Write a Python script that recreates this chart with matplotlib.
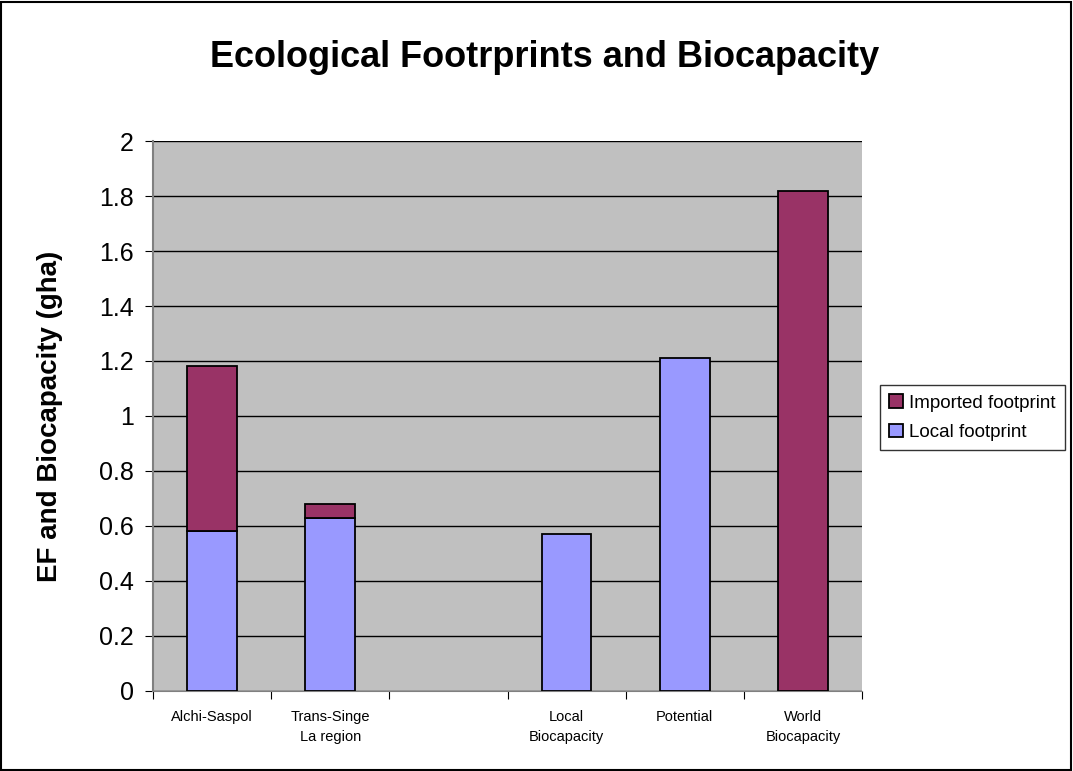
import matplotlib
matplotlib.use("Agg")
import matplotlib.pyplot as plt
import numpy as np
from matplotlib.patches import Rectangle

plt.rcParams['font.family'] = ['Liberation Sans', 'DejaVu Sans']

# data
categories = ["Alchi-Saspol", "Trans-Singe\nLa region", "", "Local\nBiocapacity", "Potential", "World\nBiocapacity"]
local_fp = [0.58, 0.63, 0, 0.57, 1.21, 0]
imported_fp = [0.60, 0.05, 0, 0, 0, 1.82]

fig = plt.figure(figsize=(10.73, 7.71), dpi=100)
ax = fig.add_axes([0.1426, 0.1038, 0.6608, 0.7133])

x = np.arange(len(categories))
loc = np.array(local_fp, dtype=float)
imp = np.array(imported_fp, dtype=float)
w = 0.42
# skip zero-height segments so no stray edge lines are drawn
m_loc = loc > 0
m_imp = imp > 0
ax.bar(x[m_loc], loc[m_loc], w, color="#9999FF", edgecolor="black", linewidth=1.3,
       label="Local footprint", zorder=3)
ax.bar(x[m_imp], imp[m_imp], w, bottom=loc[m_imp], color="#993366", edgecolor="black",
       linewidth=1.3, label="Imported footprint", zorder=3)

ax.set_facecolor("#C0C0C0")
ax.set_xlim(-0.5, len(categories) - 0.5)
ax.set_ylim(0, 2)
ax.set_yticks(np.arange(0, 2.01, 0.2))
ax.set_yticklabels(["0", "0.2", "0.4", "0.6", "0.8", "1", "1.2", "1.4", "1.6", "1.8", "2"],
                   fontsize=18)
ax.yaxis.grid(True, color="black", linewidth=1, zorder=1)
ax.set_axisbelow(True)

# category boundaries as major ticks, labels on minor ticks
ax.set_xticks(np.arange(-0.5, len(categories), 1))
ax.set_xticklabels([])
ax.set_xticks(x, minor=True)
ax.set_xticklabels(categories, minor=True, fontsize=10.5, linespacing=1.55)
ax.tick_params(axis="x", which="minor", length=0, pad=14)
ax.tick_params(axis="x", which="major", length=6, direction="out")
ax.tick_params(axis="y", length=6, direction="out", pad=8)

for side in ["top", "right"]:
    ax.spines[side].set_visible(False)
ax.spines["left"].set_color("#808080")
ax.spines["bottom"].set_color("#808080")
ax.spines["left"].set_linewidth(1.5)

ax.set_ylabel("EF and Biocapacity (gha)", fontsize=20, fontweight="bold", labelpad=26)
fig.text(0.508, 0.926, "Ecological Footrprints and Biocapacity", fontsize=26,
         fontweight="bold", ha="center", va="center")

handles, labels = ax.get_legend_handles_labels()
leg = fig.legend(handles[::-1], labels[::-1], loc="upper left",
                 bbox_to_anchor=(0.82, 0.501), fontsize=13.5, frameon=True,
                 fancybox=False, handlelength=0.75, handleheight=0.75,
                 handletextpad=0.3, borderpad=0.5, labelspacing=0.65,
                 borderaxespad=0)
leg.get_frame().set_edgecolor("black")
leg.get_frame().set_linewidth(1)

fig.patches.append(Rectangle((0.001, 0.001), 0.997, 0.997, transform=fig.transFigure,
                             fill=False, edgecolor="black", linewidth=1.5))

fig.savefig("out.png", dpi=100)
